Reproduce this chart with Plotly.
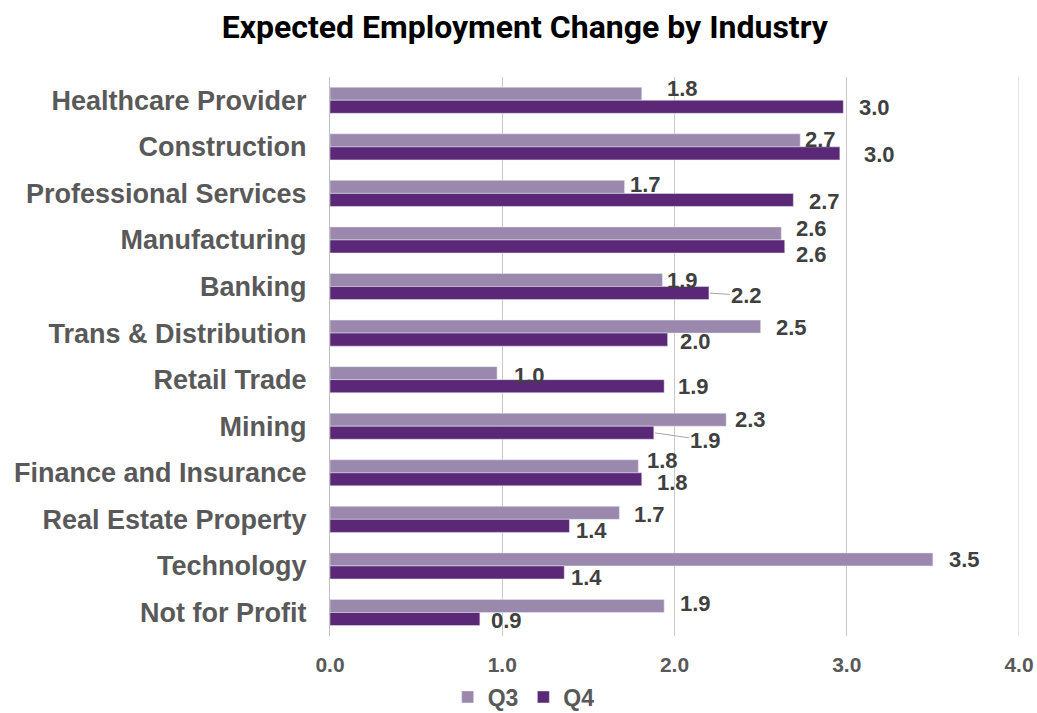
import plotly.graph_objects as go

# Industries, top to bottom
categories = [
    "Healthcare Provider", "Construction", "Professional Services", "Manufacturing",
    "Banking", "Trans & Distribution", "Retail Trade", "Mining",
    "Finance and Insurance", "Real Estate Property", "Technology", "Not for Profit",
]

# Expected employment change by quarter
q3_values = [1.81, 2.73, 1.71, 2.62, 1.93, 2.50, 0.97, 2.30, 1.79, 1.68, 3.50, 1.94]
q4_values = [2.98, 2.96, 2.69, 2.64, 2.20, 1.96, 1.94, 1.88, 1.81, 1.39, 1.36, 0.87]

x_ticks = [0, 1, 2, 3, 4]

# Data-label nudges in pixels: (gap right of bar end, vertical offset downward from category centre)
q3_label_nudge = [(23, -12), (3, -7), (3, -9), (13, -11), (3, -6), (13, -6),
                  (15, -4), (7, -7), (7, -12), (13, -5), (14, -6), (14, -9)]
q4_label_nudge = [(14, 7), (22, 8), (14, 8), (9, 15), (22, 9), (10, 8),
                  (12, 7), (36, 14), (13, 10), (5, 11), (5, 12), (9, 8)]
# Labels connected to their bar with a leader line (series, index)
leader_lines = {("Q4", 4), ("Q4", 7)}

Q3_COLOR = "#9B89AD"
Q4_COLOR = "#5B2777"
TEXT_GRAY = "#595959"
LABEL_GRAY = "#404040"
GRID_GRAY = "#C8C8C8"
BASE_FONT = "Liberation Sans, Arial, sans-serif"

fig = go.Figure()
fig.add_trace(go.Bar(name="Q3", y=categories, x=q3_values, orientation="h",
                     marker=dict(color=Q3_COLOR), hoverinfo="x+y"))
fig.add_trace(go.Bar(name="Q4", y=categories, x=q4_values, orientation="h",
                     marker=dict(color=Q4_COLOR), hoverinfo="x+y"))

BAR_HALF = 6.5  # half a bar's thickness in px; Q3 sits above the category centre, Q4 below

annotations = []
for series, values, nudges, bar_dy in (("Q3", q3_values, q3_label_nudge, -BAR_HALF),
                                       ("Q4", q4_values, q4_label_nudge, BAR_HALF)):
    for i, (cat, val) in enumerate(zip(categories, values)):
        dx, dy = nudges[i]
        label = f"{val:.1f}"
        font = dict(family=BASE_FONT, size=22, color=LABEL_GRAY, weight="bold")
        if (series, i) in leader_lines:
            annotations.append(dict(
                x=val, y=cat, xref="x", yref="y", text=label, font=font,
                showarrow=True, arrowhead=0, arrowwidth=1, arrowcolor="#A6A6A6",
                ax=dx + 16, ay=dy - bar_dy, yshift=-bar_dy, standoff=1,
            ))
        else:
            annotations.append(dict(
                x=val, y=cat, xref="x", yref="y", text=label, font=font,
                showarrow=False, xanchor="left", yanchor="middle",
                xshift=dx, yshift=-dy,
            ))

fig.update_layout(
    width=1037, height=713,
    margin=dict(l=330, r=18, t=77, b=77, autoexpand=False),
    paper_bgcolor="white", plot_bgcolor="white",
    barmode="group", bargap=0.44, bargroupgap=0,
    title=dict(
        text="Expected Employment Change by Industry",
        font=dict(family="Roboto, Arial, sans-serif", size=32, color="black", weight="bold"),
        x=0.506, xref="container", xanchor="center",
        y=1 - 27 / 713, yref="container", yanchor="middle",
    ),
    xaxis=dict(
        range=[0, 4], tickvals=x_ticks, tickformat=".1f",
        showgrid=True, gridcolor=GRID_GRAY, gridwidth=1,
        zeroline=False, showline=False, ticks="", automargin=False,
        tickfont=dict(family=BASE_FONT, size=21, color=TEXT_GRAY, weight="bold"),
        ticklabelstandoff=14, fixedrange=True,
    ),
    yaxis=dict(
        autorange="reversed", showgrid=False, zeroline=False,
        showline=True, linecolor="#BFBFBF", linewidth=1, ticks="", automargin=False,
        tickfont=dict(family=BASE_FONT, size=27, color=TEXT_GRAY, weight="bold"),
        ticklabelstandoff=17, fixedrange=True,
    ),
    legend=dict(
        orientation="h", traceorder="normal",
        x=0.505, xref="container", xanchor="center",
        y=1 - 697 / 713, yref="container", yanchor="middle",
        font=dict(family=BASE_FONT, size=23, color=TEXT_GRAY, weight="bold"),
        itemwidth=30, itemclick=False, itemdoubleclick=False,
    ),
    annotations=annotations,
    showlegend=True,
)

# Gridline at the far end of the value axis (plotly omits it at the range edge)
fig.add_shape(type="line", xref="x", yref="paper", x0=x_ticks[-1], x1=x_ticks[-1],
              y0=0, y1=1, line=dict(color=GRID_GRAY, width=1), layer="below")

fig.write_html("out.html")
